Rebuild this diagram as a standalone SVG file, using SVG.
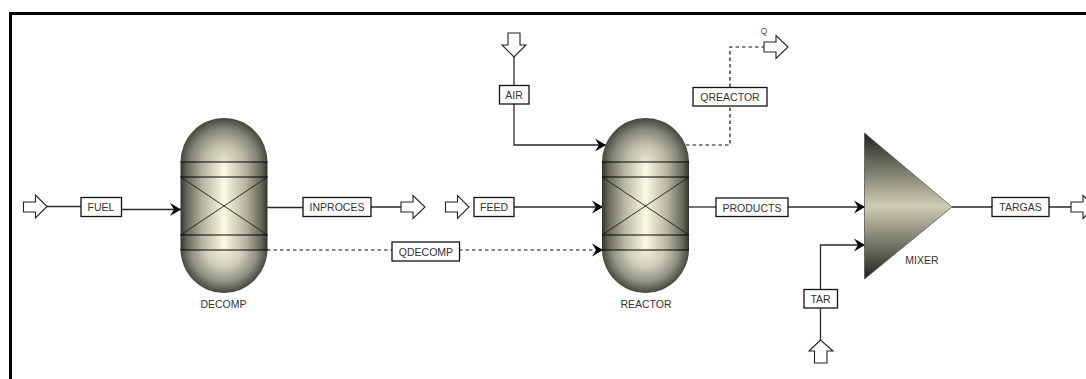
<svg xmlns="http://www.w3.org/2000/svg" width="1086" height="379" viewBox="0 0 1086 379">
<style>
.c{fill:none;stroke:#2a2a2a;stroke-width:1.3}
.d{fill:none;stroke:#111;stroke-width:1.2;stroke-dasharray:3.5 3}
.a{marker-end:url(#ah)}
.b{fill:#fff;stroke:#111;stroke-width:1.3}
.p{fill:#fff;stroke:#222;stroke-width:1.1}
.t{font-family:"Liberation Sans",Arial,sans-serif;font-size:10.5px;fill:#333;text-anchor:middle}
.l{fill:none;stroke:#000;stroke-width:1.1}
.x{fill:none;stroke:#1c1c14;stroke-width:.9}
.body{fill:url(#gb)}
</style>
<defs>
<marker id="ah" markerUnits="userSpaceOnUse" markerWidth="14" markerHeight="14" refX="11" refY="7" orient="auto">
<path d="M0,.5 L11,7 L0,13.500 L4,7Z" fill="#000"/>
</marker>
<linearGradient id="gb" x1="0" x2="1" y1="0" y2="0">
<stop offset="0" stop-color="#33332b"/><stop offset=".07" stop-color="#66665a"/><stop offset=".25" stop-color="#b4b4a0"/><stop offset=".5" stop-color="#fbfbe2"/><stop offset=".75" stop-color="#b4b4a0"/><stop offset=".93" stop-color="#66665a"/><stop offset="1" stop-color="#33332b"/>
</linearGradient>
<radialGradient id="gt" gradientUnits="userSpaceOnUse" cx="0" cy="44" r="44" fx="0" fy="44">
<stop offset="0" stop-color="#e6e6ce"/><stop offset=".4" stop-color="#c0c0aa"/><stop offset=".75" stop-color="#85857a"/><stop offset="1" stop-color="#45453b"/>
</radialGradient>
<radialGradient id="gm" gradientUnits="userSpaceOnUse" cx="0" cy="131" r="44" fx="0" fy="131">
<stop offset="0" stop-color="#f0f0d8"/><stop offset=".4" stop-color="#d0d0ba"/><stop offset=".75" stop-color="#909084"/><stop offset="1" stop-color="#45453b"/>
</radialGradient>
<linearGradient id="gx" x1="0" x2="0" y1="0" y2="1">
<stop offset="0" stop-color="#24241f"/><stop offset=".5" stop-color="#cdcdb4"/><stop offset="1" stop-color="#24241f"/>
</linearGradient>
<g id="vessel">
<path d="M-43.500,44 A43.500,44 0 0 1 43.500,44Z" fill="url(#gt)"/>
<path d="M-43.500,131 A43.500,44 0 0 0 43.500,131Z" fill="url(#gm)"/>
<rect class="body" x="-43.500" y="44" width="87" height="88"/>
<path class="l" d="M-43.500,44H43.500M-43.500,59H43.500M-43.500,117H43.500M-43.500,132H43.500"/>
<path class="x" d="M-43.500,59L43.500,117M-43.500,117L43.500,59"/>
</g>
</defs>
<rect width="1086" height="379" fill="#fff"/>
<path d="M10.500,379V13.500H1086" fill="none" stroke="#000" stroke-width="3"/>
<g id="connectors">
<path class="c" d="M47,206.500H81"/>
<path class="c a" d="M122,209.500H181"/>
<path class="c" d="M267,207.500H303M371,207H401"/>
<path class="c a" d="M514,207H603"/>
<path class="d" d="M267,250H392"/>
<path class="d a" d="M459,250H603"/>
<path class="c" d="M514,57V85"/>
<path class="c a" d="M514,104V145H606"/>
<path class="d" d="M686,145H730V106M730,87V47H764"/>
<path class="c" d="M689,207H716"/>
<path class="c a" d="M788,207H865"/>
<path class="c" d="M952,207H992M1049,207H1071M820.500,340V308"/>
<path class="c a" d="M820.500,289V245H865"/>
</g>
<g id="DECOMP"><use href="#vessel" transform="translate(224,118)"/><text class="t" x="223.500" y="308">DECOMP</text></g>
<g id="REACTOR"><use href="#vessel" transform="translate(645.500,118)"/><text class="t" x="646" y="308">REACTOR</text></g>
<g id="MIXER"><path d="M864.500,133L952,207L864.500,279Z" fill="url(#gx)" stroke="#555" stroke-width=".8"/><text class="t" x="922" y="264">MIXER</text></g>
<g id="FUEL"><path class="p" d="M23.500,202H35.500V195L47,206.500L35.500,218V212H23.500Z"/><rect class="b" x="81" y="197.500" width="40.500" height="19"/><text class="t" x="101" y="211">FUEL</text></g>
<g id="INPROCES"><rect class="b" x="303" y="197.500" width="68" height="19"/><text class="t" x="337" y="211">INPROCES</text><path class="p" d="M401,202H413V195.500L425,207L413,218.500V212H401Z"/></g>
<g id="FEED"><path class="p" d="M445.500,202H457.500V195.500L469,207L457.500,218.500V212H445.500Z"/><rect class="b" x="474" y="197.500" width="40" height="19"/><text class="t" x="494" y="211">FEED</text></g>
<g id="QDECOMP"><rect class="b" x="392" y="242" width="67.500" height="19"/><text class="t" x="426" y="256">QDECOMP</text></g>
<g id="AIR"><path class="p" d="M508,33H520V45H526L514,57L502,45H508Z"/><rect class="b" x="499.500" y="85.500" width="29.500" height="18.500"/><text class="t" x="514" y="99">AIR</text></g>
<g id="QREACTOR"><rect class="b" x="693" y="87.500" width="74" height="18.500"/><text class="t" x="730" y="101">QREACTOR</text><path class="p" d="M764,42H776V35.500L788,47L776,58.500V52H764Z"/><text x="764" y="34" font-family="Liberation Sans,Arial,sans-serif" font-size="8.500" fill="#7a3a10" text-anchor="middle">Q</text></g>
<g id="PRODUCTS"><rect class="b" x="716" y="198" width="72" height="18.500"/><text class="t" x="752" y="211.500">PRODUCTS</text></g>
<g id="TAR"><rect class="b" x="804" y="289.500" width="33.500" height="18.500"/><text class="t" x="820.500" y="303">TAR</text><path class="p" d="M814.500,363V351H809L820.500,340L833,351H827V363Z"/></g>
<g id="TARGAS"><rect class="b" x="992" y="197.500" width="57" height="19"/><text class="t" x="1020.500" y="211">TARGAS</text><path class="p" d="M1071,202H1083V195.500L1095,207L1083,218.500V212H1071Z"/></g>
</svg>
